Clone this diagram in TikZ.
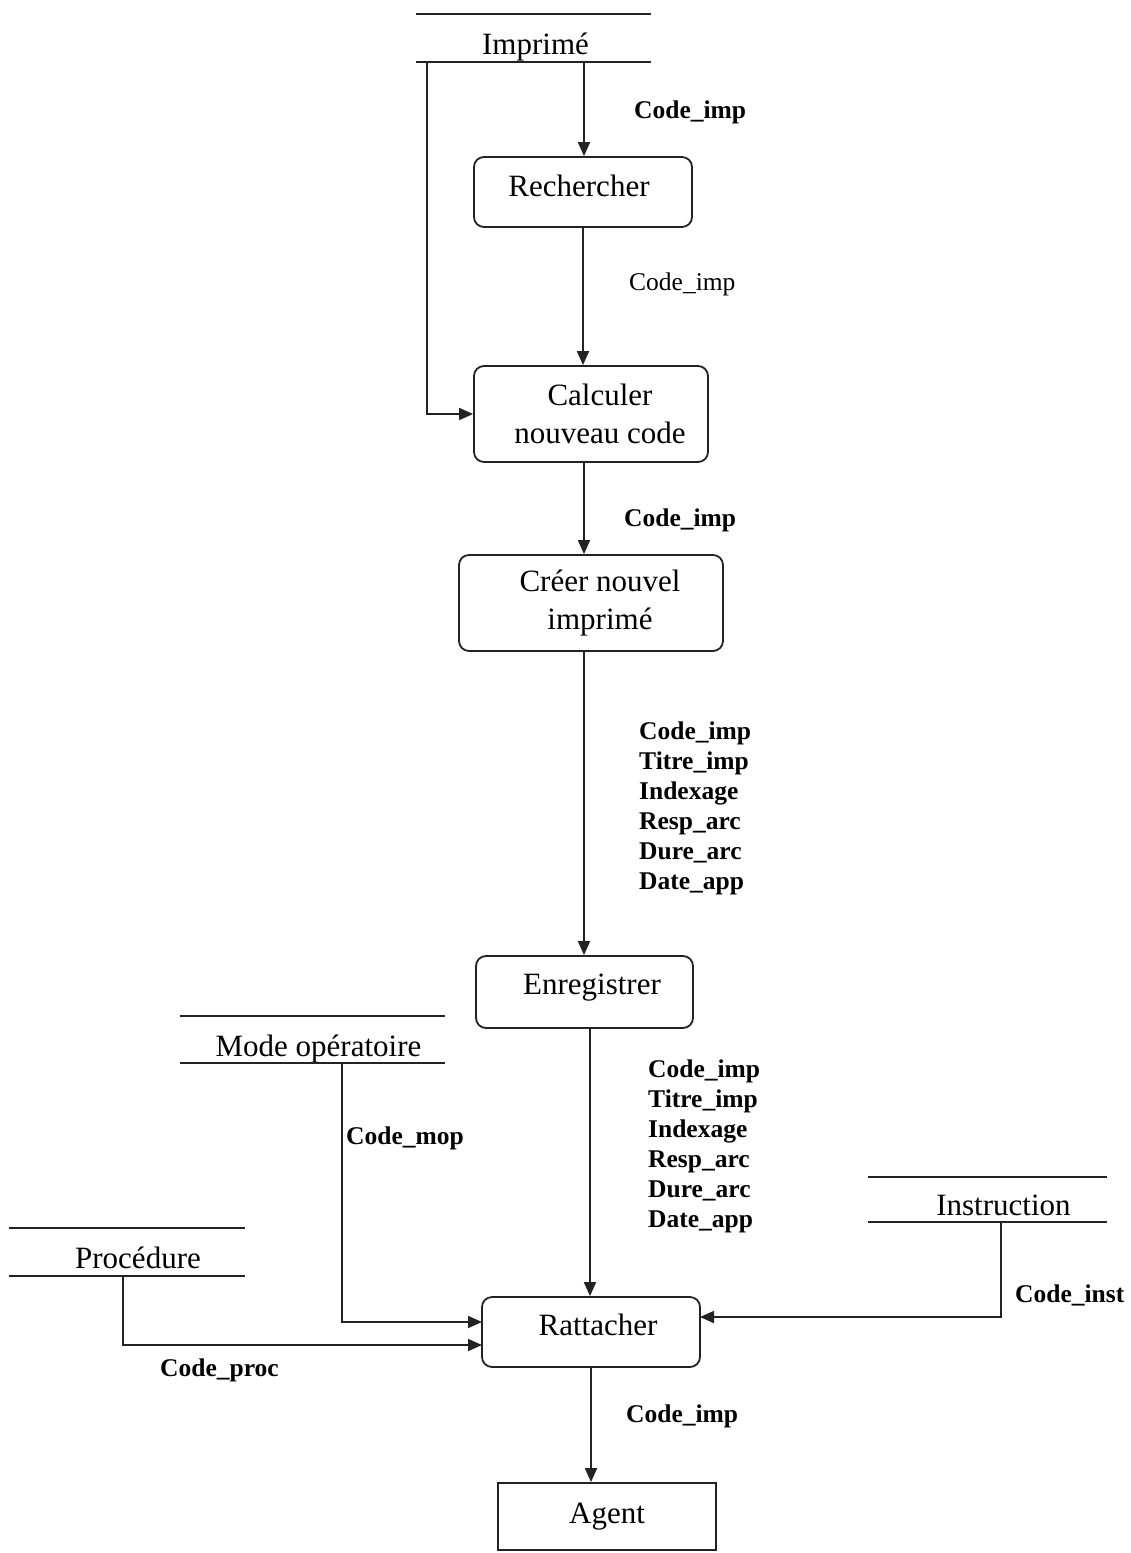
\documentclass[tikz,border=0pt]{standalone}
\usepackage{fontspec}
\setmainfont{Liberation Serif}
\usetikzlibrary{arrows.meta}
\definecolor{ink}{RGB}{35,35,35}
\tikzset{
  proc/.style={draw=ink, line width=1.8pt, rounded corners=10pt, inner sep=0pt},
  ext/.style={draw=ink, line width=1.8pt, inner sep=0pt, align=center, font=\fontsize{31}{38}\selectfont},
  txt/.style={inner sep=0pt, align=center, font=\fontsize{31}{38}\selectfont},
  store/.style={inner sep=0pt},
  lbl/.style={anchor=west, inner sep=0pt, align=left, font=\fontsize{25.5}{30}\selectfont\bfseries},
  lblr/.style={anchor=west, inner sep=0pt, align=left, font=\fontsize{25.5}{30}\selectfont},
  flow/.style={draw=ink, line width=1.8pt, -{Triangle[length=14pt,width=12pt]}},
  sline/.style={draw=ink, line width=1.8pt}
}
\begin{document}
\begin{tikzpicture}[x=1pt,y=-1pt]
\useasboundingbox (0,0) rectangle (1131,1553);
% stores
\node[store, minimum width=235pt, minimum height=48pt,
  label={[txt, xshift=2pt, yshift=-9pt]center:Imprimé}] (imp) at (533.5,38) {};
\draw[sline] (imp.north west) -- (imp.north east) (imp.south west) -- (imp.south east);
\node[store, minimum width=265pt, minimum height=47pt,
  label={[txt, xshift=6pt, yshift=-10pt]center:Mode opératoire}] (mop) at (312.5,1039.5) {};
\draw[sline] (mop.north west) -- (mop.north east) (mop.south west) -- (mop.south east);
\node[store, minimum width=236pt, minimum height=48pt,
  label={[txt, xshift=11pt, yshift=-6pt]center:Procédure}] (pro) at (127,1252) {};
\draw[sline] (pro.north west) -- (pro.north east) (pro.south west) -- (pro.south east);
\node[store, minimum width=239pt, minimum height=45pt,
  label={[txt, xshift=16pt, yshift=-6pt]center:Instruction}] (ins) at (987.5,1199.5) {};
\draw[sline] (ins.north west) -- (ins.north east) (ins.south west) -- (ins.south east);
% processes
\node[proc, minimum width=218pt, minimum height=70pt,
  label={[txt, xshift=-4pt, yshift=6pt]center:Rechercher}] (rech) at (583,192) {};
\node[proc, minimum width=234pt, minimum height=96pt,
  label={[txt, xshift=9pt]center:Calculer\\nouveau code}] (calc) at (591,414) {};
\node[proc, minimum width=264pt, minimum height=96pt,
  label={[txt, xshift=9pt]center:Créer nouvel\\imprimé}] (cree) at (591,603) {};
\node[proc, minimum width=217pt, minimum height=72pt,
  label={[txt, xshift=7.5pt, yshift=4pt]center:Enregistrer}] (enr) at (584.5,992) {};
\node[proc, minimum width=218pt, minimum height=70pt,
  label={[txt, xshift=7pt, yshift=7pt]center:Rattacher}] (rat) at (591,1332) {};
\node[ext, minimum width=218pt, minimum height=67pt] (agent) at (607,1516.5) {Agent};
% helper coordinates
\coordinate (c1) at (584,62);
\coordinate (c2) at (427,62);
\coordinate (c3) at (584,0);
\coordinate (c4) at (590,0);
\coordinate (c5) at (342,1063);
\coordinate (c6) at (123,1276);
\coordinate (c7) at (1001,1222);
\coordinate (c8) at (482,1322);
\coordinate (c9) at (482,1345);
\coordinate (c10) at (700,1317);
% connectors
\draw[flow] (c1) -- (c1 |- rech.north);
\draw[flow] (c2) |- (calc.west);
\draw[flow] (rech.south) -- (rech.south |- calc.north);
\draw[flow] (c3 |- calc.south) -- (c3 |- cree.north);
\draw[flow] (c3 |- cree.south) -- (c3 |- enr.north);
\draw[flow] (c4 |- enr.south) -- (c4 |- rat.north);
\draw[flow] (c5) |- (c8);
\draw[flow] (c6) |- (c9);
\draw[flow] (c7) |- (c10);
\draw[flow] (rat.south) -- (rat.south |- agent.north);
% labels
\node[lbl] (l1) at (634,112) {Code\_imp};
\node[lblr] (l2) at (629,284) {Code\_imp};
\node[lbl] (l3) at (624,520) {Code\_imp};
\node[lbl] (l4) at (639,808) {Code\_imp\\Titre\_imp\\Indexage\\Resp\_arc\\Dure\_arc\\Date\_app};
\node[lbl] (l5) at (648,1146.5) {Code\_imp\\Titre\_imp\\Indexage\\Resp\_arc\\Dure\_arc\\Date\_app};
\node[lbl] (l6) at (346,1138) {Code\_mop};
\node[lbl] (l7) at (160,1370) {Code\_proc};
\node[lbl] (l8) at (1015,1295) {Code\_inst};
\node[lbl] (l9) at (626,1416) {Code\_imp};
\end{tikzpicture}
\end{document}
